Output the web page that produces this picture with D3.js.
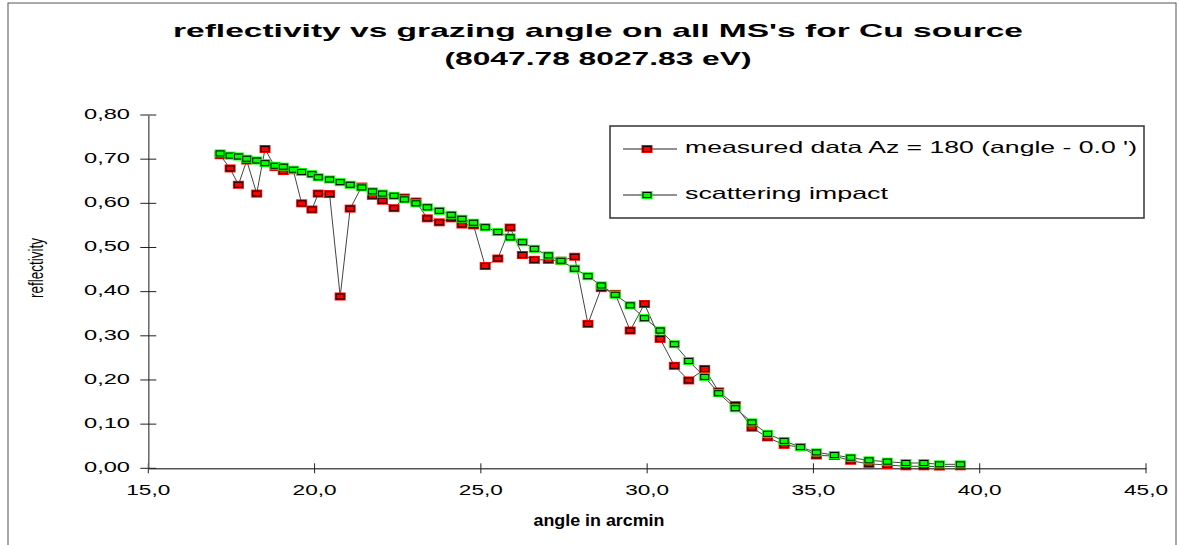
<!DOCTYPE html>
<html><head><meta charset="utf-8">
<script src="https://cdn.jsdelivr.net/npm/d3@7"></script>
<style>html,body{margin:0;padding:0;background:#fff;}svg{display:block;}</style>
</head><body>
<svg id="c" width="1180" height="545"></svg>
<script>
const angles = [17.16,17.46,17.71,17.96,18.26,18.51,18.81,19.06,19.36,19.61,19.92,20.11,20.45,20.77,21.07,21.42,21.74,22.04,22.39,22.70,23.05,23.39,23.75,24.11,24.43,24.78,25.13,25.51,25.88,26.25,26.61,27.03,27.41,27.82,28.22,28.62,29.04,29.49,29.92,30.39,30.82,31.25,31.73,32.15,32.65,33.15,33.62,34.12,34.61,35.09,35.63,36.12,36.67,37.22,37.78,38.32,38.79,39.42];
const measured = [0.709,0.679,0.642,0.697,0.622,0.723,0.682,0.673,0.675,0.600,0.586,0.622,0.621,0.389,0.588,0.638,0.617,0.606,0.589,0.613,0.604,0.566,0.557,0.566,0.552,0.550,0.458,0.475,0.545,0.483,0.472,0.472,0.470,0.479,0.327,0.408,0.395,0.312,0.372,0.293,0.232,0.199,0.225,0.174,0.143,0.092,0.070,0.053,0.048,0.029,0.028,0.017,0.010,0.0075,0.0045,0.0045,0.004,0.0045];
const scattering = [0.713,0.708,0.706,0.701,0.697,0.691,0.685,0.683,0.676,0.671,0.666,0.659,0.654,0.648,0.642,0.636,0.627,0.622,0.617,0.609,0.600,0.591,0.583,0.574,0.565,0.556,0.546,0.535,0.523,0.512,0.497,0.482,0.470,0.452,0.435,0.414,0.393,0.369,0.340,0.312,0.281,0.243,0.207,0.170,0.136,0.104,0.078,0.062,0.048,0.036,0.030,0.024,0.018,0.015,0.012,0.012,0.009,0.009];
const xTicks = [15,20,25,30,35,40,45];
const yTicks = [0,0.1,0.2,0.3,0.4,0.5,0.6,0.7,0.8];
const seriesNames = ["measured data Az = 180 (angle - 0.0 ')", "scattering impact"];
const seriesColors = ["#ff0000", "#00ff00"];
const titleLines = ["reflectivity vs grazing angle on all MS's for Cu source", "(8047.78 8027.83 eV)"];
const xTitle = "angle in arcmin";
const yTitle = "reflectivity";

const svg = d3.select("#c");
const FONT = "'Liberation Sans', Arial, sans-serif";
const x = d3.scaleLinear().domain([15,45]).range([148.3,1146]);
const y = d3.scaleLinear().domain([0,0.8]).range([468.3,115]);

// outer frame
svg.append("rect").attr("x",8).attr("y",3).attr("width",1168).attr("height",560)
  .attr("fill","none").attr("stroke","#555").attr("stroke-width",1);

// titles
const tl = [[32, 850], [60, 307]];
titleLines.forEach((t,i)=>{
  svg.append("text").attr("x",598).attr("y",tl[i][0]).attr("text-anchor","middle")
    .attr("dominant-baseline","middle").attr("font-family",FONT).attr("font-weight","bold")
    .attr("font-size",19).attr("textLength",tl[i][1]).attr("lengthAdjust","spacingAndGlyphs")
    .attr("fill","#000").text(t);
});

// axes
const gx = svg.append("g").attr("transform",`translate(0,${y(0)})`)
  .call(d3.axisBottom(x).tickValues(xTicks).tickSize(0).tickFormat(""));
gx.select(".domain").attr("stroke","#555").attr("stroke-width",1.5);
xTicks.forEach(v=>{
  svg.append("line").attr("x1",x(v)).attr("x2",x(v)).attr("y1",y(0)-5).attr("y2",y(0)+5)
    .attr("stroke","#222").attr("stroke-width",1);
  svg.append("text").attr("x",x(v)).attr("y",491).attr("text-anchor","middle")
    .attr("dominant-baseline","middle").attr("font-family",FONT).attr("font-size",14.5)
    .attr("textLength",44).attr("lengthAdjust","spacingAndGlyphs").text(d3.format(".1f")(v).replace(".",","));
});
const gy = svg.append("g").attr("transform",`translate(${x(15)},0)`)
  .call(d3.axisLeft(y).tickValues(yTicks).tickSize(0).tickFormat(""));
gy.select(".domain").attr("stroke","#666").attr("stroke-width",1.5);
yTicks.forEach(v=>{
  svg.append("line").attr("x1",x(15)-8).attr("x2",x(15)+8).attr("y1",y(v)).attr("y2",y(v))
    .attr("stroke","#222").attr("stroke-width",1);
  svg.append("text").attr("x",130).attr("y",y(v)).attr("text-anchor","end")
    .attr("dominant-baseline","middle").attr("font-family",FONT).attr("font-size",14.5)
    .attr("textLength",46).attr("lengthAdjust","spacingAndGlyphs").text(d3.format(".2f")(v).replace(".",","));
});

// axis titles
svg.append("text").attr("x",599).attr("y",522).attr("text-anchor","middle").attr("dominant-baseline","middle")
  .attr("font-family",FONT).attr("font-weight","bold").attr("font-size",16)
  .attr("textLength",131).attr("lengthAdjust","spacingAndGlyphs").text(xTitle);
svg.append("text").attr("transform","translate(37,268) rotate(-90)").attr("text-anchor","middle")
  .attr("dominant-baseline","middle").attr("font-family",FONT).attr("font-size",21)
  .attr("textLength",60).attr("lengthAdjust","spacingAndGlyphs").text(yTitle);

// series
const line = d3.line().x(d=>x(d[0])).y(d=>y(d[1]));
function marker(g, cx, cy, color){
  g.append("rect").attr("x",cx-5.5).attr("y",cy-4).attr("width",11).attr("height",8).attr("fill",color);
  g.append("rect").attr("x",cx-4).attr("y",cy-2.5).attr("width",8).attr("height",5)
    .attr("fill",color).attr("stroke","#000").attr("stroke-width",1);
}
[measured, scattering].forEach((vals,si)=>{
  const pts = angles.map((a,i)=>[a, vals[i]]);
  svg.append("path").attr("d",line(pts)).attr("fill","none").attr("stroke","#444").attr("stroke-width",1);
  const g = svg.append("g");
  pts.forEach(p=>marker(g, x(p[0]), y(p[1]), seriesColors[si]));
});

// legend
svg.append("rect").attr("x",610).attr("y",126).attr("width",534).attr("height",92)
  .attr("fill","#fff").attr("stroke","#333").attr("stroke-width",1.5);
const legY = [149, 195], legLen = [452, 203];
seriesNames.forEach((n,i)=>{
  svg.append("line").attr("x1",623).attr("x2",677).attr("y1",legY[i]).attr("y2",legY[i]).attr("stroke","#222").attr("stroke-width",1);
  marker(svg, 647, legY[i], seriesColors[i]);
  svg.append("text").attr("x",685).attr("y",legY[i]).attr("dominant-baseline","middle")
    .attr("font-family",FONT).attr("font-size",16.5).attr("textLength",legLen[i])
    .attr("lengthAdjust","spacingAndGlyphs").text(n);
});
</script>
</body></html>
